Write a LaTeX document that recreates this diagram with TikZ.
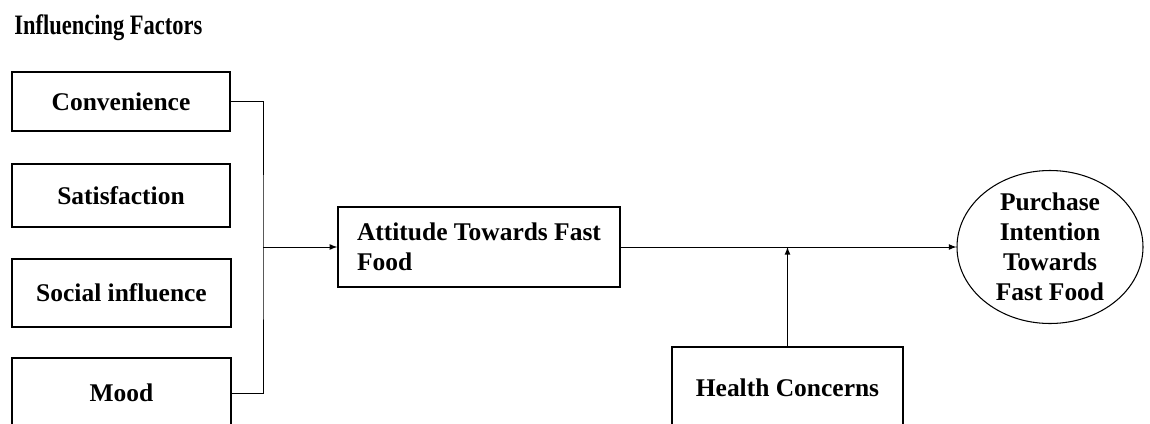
\documentclass[tikz,border=0pt]{standalone}
\usepackage{fontspec}
\setmainfont{Liberation Serif}
\usetikzlibrary{shapes.geometric}

\begin{document}
\begin{tikzpicture}[x=0.02cm, y=-0.02cm, >=latex,
    factor/.style={draw, line width=0.8pt, minimum width=218*0.02cm, inner sep=0pt,
        font=\bfseries\fontsize{14.5}{17}\selectfont},
    wire/.style={line width=0.5pt}]
    \clip (0,0) rectangle (1150,423);
    % Draw the title
    \node[anchor=west, inner sep=0pt] (title) at (14,28)
        {\scalebox{0.8}[1]{\bfseries\fontsize{16}{19}\selectfont Influencing Factors}};

    % Draw the factor boxes
    \node[factor, minimum height=59*0.02cm] (conv) at (121,101.5) {Convenience};
    \node[factor, minimum height=63*0.02cm] (satis) at (121,195.5) {Satisfaction};
    \node[factor, minimum height=68*0.02cm, minimum width=219*0.02cm] (social) at (121.5,293) {Social influence};
    \node[factor, minimum height=70*0.02cm, minimum width=219*0.02cm] (mood) at (121.5,393) {Mood};

    % Draw the attitude, health and purchase nodes
    \node[factor, minimum height=80*0.02cm, minimum width=282*0.02cm, align=left] (att) at (479,247)
        {Attitude Towards Fast\\Food};
    \node[factor, minimum height=82*0.02cm, minimum width=231*0.02cm] (health) at (787.5,388) {Health Concerns};
    \node[factor, ellipse, minimum width=186*0.02cm, minimum height=153*0.02cm, line width=0.6pt,
        align=center] (purch) at (1050,247) {Purchase\\Intention\\Towards\\Fast Food};

    % Draw the connectors
    \coordinate (jn) at (263,247);
    \coordinate (mod) at (787.5,247);
    \draw[wire] (conv.east) -| (jn) |- (mood.east);
    \draw[wire, ->] (jn) -- (att.west);
    \draw[wire, ->] (att.east) -- (purch.west);
    \draw[wire, ->] (health.north) -- (mod);
\end{tikzpicture}
\end{document}
